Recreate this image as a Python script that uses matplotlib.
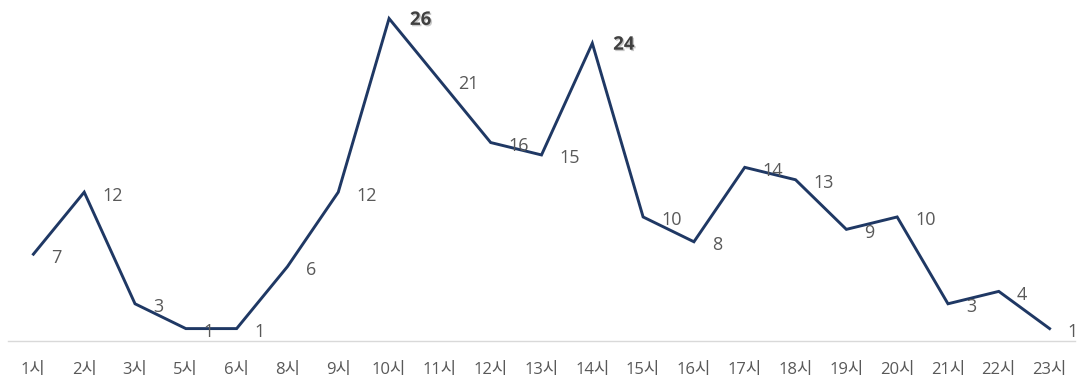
import matplotlib
matplotlib.use("Agg")
import matplotlib.pyplot as plt
import matplotlib.patheffects as pe

plt.rcParams['font.family'] = ['Open Sans', 'Noto Sans CJK KR', 'DejaVu Sans']

hours = ["1시", "2시", "3시", "5시", "6시", "8시", "9시", "10시", "11시", "12시", "13시",
         "14시", "15시", "16시", "17시", "18시", "19시", "20시", "21시", "22시", "23시"]
counts = [7, 12, 3, 1, 1, 6, 12, 26, 21, 16, 15, 24, 10, 8, 14, 13, 9, 10, 3, 4, 1]
highlight = [26, 24]

fig = plt.figure(figsize=(10.8, 3.83), dpi=100)
ax = fig.add_axes([8/1080, 1 - 341/383, 1067/1080, 340/383])

x = list(range(len(hours)))
ax.plot(x, counts, color="#1F3864", linewidth=2.1, solid_joinstyle="miter")

for xi, v in zip(x, counts):
    if v in highlight:
        ax.annotate(str(v), (xi, v), xytext=(15, -1), textcoords="offset points",
                    ha="left", va="center", fontsize=13.5, fontweight="bold", color="#404040",
                    path_effects=[pe.withSimplePatchShadow(offset=(1, -1), shadow_rgbFace="#bbbbbb", alpha=0.8)])
    else:
        ax.annotate(str(v), (xi, v), xytext=(13, -2.5), textcoords="offset points",
                    ha="left", va="center", fontsize=13, color="#595959")

ax.set_xlim(-0.5, len(hours) - 0.5)
ax.set_ylim(0, 341/12.44)
ax.set_xticks(x)
ax.set_xticklabels(hours, fontsize=12, color="#595959")
ax.tick_params(axis="x", length=0, pad=15)
ax.set_yticks([])
for s in ["top", "right", "left"]:
    ax.spines[s].set_visible(False)
ax.spines["bottom"].set_color("#D9D9D9")
ax.spines["bottom"].set_linewidth(1)
ax.set_facecolor("white")

fig.savefig("out.png", dpi=100, facecolor="white")
